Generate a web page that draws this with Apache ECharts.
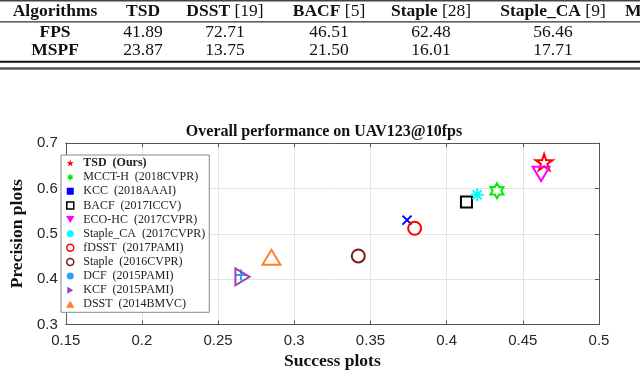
<!DOCTYPE html>
<html>
<head>
<meta charset="utf-8">
<script src="https://cdn.jsdelivr.net/npm/echarts@6/dist/echarts.min.js"></script>
<style>
  html, body { margin: 0; padding: 0; background: #fff; }
  #chart { width: 640px; height: 372px; }
</style>
</head>
<body>
<div id="chart"></div>
<script>
// table above the plot
const tableMethods = ['TSD', 'DSST', 'BACF', 'Staple', 'Staple_CA', 'MCCT-H']
const tableRefs = ['', '[19]', '[5]', '[28]', '[9]', '']
const fpsValues = [41.89, 72.71, 46.51, 62.48, 56.46]
const mspfValues = [23.87, 13.75, 21.50, 16.01, 17.71]

// scatter: success (x) vs precision (y)
const methods = ['TSD (Ours)', 'MCCT-H (2018CVPR)', 'KCC (2018AAAI)', 'BACF (2017ICCV)', 'ECO-HC (2017CVPR)',
  'Staple_CA (2017CVPR)', 'fDSST (2017PAMI)', 'Staple (2016CVPR)', 'DCF (2015PAMI)', 'KCF (2015PAMI)', 'DSST (2014BMVC)']
const successScores = [0.464, 0.433, 0.374, 0.413, 0.462, 0.420, 0.379, 0.342, 0.265, 0.266, 0.285]
const precisionScores = [0.658, 0.595, 0.530, 0.570, 0.632, 0.586, 0.512, 0.451, 0.409, 0.405, 0.448]

// marker shapes
const STAR = 'path://M0 -10 L2.245 -3.09 L9.511 -3.09 L3.633 1.18 L5.878 8.09 L0 3.82 L-5.878 8.09 L-3.633 1.18 L-9.511 -3.09 L-2.245 -3.09 Z'
const HEXA = 'path://M0 -10 L2.887 -5 L8.66 -5 L5.774 0 L8.66 5 L2.887 5 L0 10 L-2.887 5 L-8.66 5 L-5.774 0 L-8.66 -5 L-2.887 -5 Z'
const ASTER = 'path://M0 -10 L0 10 M-10 0 L10 0 M-7.07 -7.07 L7.07 7.07 M-7.07 7.07 L7.07 -7.07'
const XMARK = 'path://M-10 -10 L10 10 M-10 10 L10 -10'
const PLUS = 'path://M0 -10 L0 10 M-10 0 L10 0'
const SQUARE = 'path://M0 0 L10 0 L10 10 L0 10 Z'
const TRI_DOWN = 'path://M0 0 L12 0 L6 10 Z'
const TRI_UP = 'path://M6 0 L12 10 L0 10 Z'
const TRI_RIGHT = 'path://M0 0 L10 6 L0 12 Z'

const colors = ['#ff0000', '#00ee00', '#0000ff', '#000000', '#ff00ff', '#00ffff', '#ff0000', '#801818', '#2f9ff0', '#a040b8', '#ff7f2a']
const symbols = [STAR, HEXA, XMARK, 'rect', TRI_DOWN, ASTER, 'circle', 'circle', PLUS, TRI_RIGHT, TRI_UP]
const symbolSizes = [17, 15, 9, 11, 17, 13, 13, 13, 11, 17, 18]
const legendIcons = [STAR, HEXA, SQUARE, SQUARE, TRI_DOWN, 'circle', 'circle', 'circle', 'circle', TRI_RIGHT, TRI_UP]
const legendHollow = [false, false, false, true, false, false, true, true, false, false, false]

const serif = 'Liberation Serif'
const sans = 'Liberation Sans'

// table as graphic elements
const colX = [55, 143, 225, 329, 431, 553]
const rowY = [11, 32, 50]
const tableGraphics = []
const cell = (x, y, text, align) => ({
  type: 'text', x, y,
  style: {
    text, align: align || 'center', verticalAlign: 'middle', fill: '#111',
    font: '17.5px "Liberation Serif"',
    rich: {
      b: { fontFamily: serif, fontWeight: 'bold', fontSize: 17.5, fill: '#111' },
      r: { fontFamily: serif, fontSize: 17.5, fill: '#111' }
    }
  }
})
tableGraphics.push(cell(colX[0], rowY[0], '{b|Algorithms}'))
tableMethods.forEach((m, i) => {
  const t = tableRefs[i] ? `{b|${m}}{r| ${tableRefs[i]}}` : `{b|${m}}`
  if (i + 1 < colX.length) tableGraphics.push(cell(colX[i + 1], rowY[0], t))
  else tableGraphics.push(cell(625, rowY[0], t, 'left'))
})
tableGraphics.push(cell(colX[0], rowY[1], '{b|FPS}'))
tableGraphics.push(cell(colX[0], rowY[2], '{b|MSPF}'))
fpsValues.forEach((v, i) => tableGraphics.push(cell(colX[i + 1], rowY[1], `{r|${v.toFixed(2)}}`)))
mspfValues.forEach((v, i) => tableGraphics.push(cell(colX[i + 1], rowY[2], `{r|${v.toFixed(2)}}`)))
const rule = (y, w, c) => ({ type: 'line', shape: { x1: 0, y1: y, x2: 640, y2: y }, style: { stroke: c, lineWidth: w } })
tableGraphics.push(rule(0.7, 1.5, '#444'), rule(21.8, 1.2, '#333'), rule(61.7, 2, '#111'), rule(68.4, 2.5, '#555'))

const chart = echarts.init(document.getElementById('chart'))

const axisColor = '#555'
const baseX = {
  type: 'value', min: 0.15, max: 0.5, interval: 0.05,
  axisLine: { show: true, onZero: false, lineStyle: { color: axisColor, width: 1 } },
  axisTick: { show: true, inside: true, length: 4, lineStyle: { color: axisColor } }
}
const baseY = {
  type: 'value', min: 0.3, max: 0.7, interval: 0.1,
  axisLine: { show: true, onZero: false, lineStyle: { color: axisColor, width: 1 } },
  axisTick: { show: true, inside: true, length: 4, lineStyle: { color: axisColor } }
}

chart.setOption({
  animation: false,
  backgroundColor: '#fff',
  graphic: tableGraphics,
  title: {
    text: 'Overall performance on UAV123@10fps',
    left: 324, top: 124, textAlign: 'center', padding: 0,
    textStyle: { fontFamily: serif, fontWeight: 'bold', fontSize: 16, color: '#111' }
  },
  grid: { left: 53, right: 41, top: 143, bottom: 47.5 },
  legend: {
    orient: 'vertical', left: 61, top: 155,
    padding: [1, 4, 1, 5],
    itemWidth: 16, itemHeight: 7, itemGap: 0.13,
    backgroundColor: '#fff', borderColor: '#888', borderWidth: 1,
    formatter: (n) => n.replace(' (', '\u00a0\u00a0('),
    textStyle: { fontFamily: serif, fontSize: 12, color: '#222', lineHeight: 14 },
    data: methods.map((m, i) => ({
      name: m,
      icon: legendIcons[i],
      itemStyle: legendHollow[i]
        ? { color: '#fff', borderColor: colors[i], borderWidth: 1.5 }
        : { color: colors[i], borderWidth: 0 },
      textStyle: i === 0 ? { fontWeight: 'bold' } : {}
    }))
  },
  xAxis: [
    {
      ...baseX,
      name: 'Success plots', nameLocation: 'middle', nameGap: 28,
      nameTextStyle: { fontFamily: serif, fontWeight: 'bold', fontSize: 17.5, color: '#111' },
      axisLabel: { margin: 9, fontFamily: sans, fontSize: 15, color: '#262626' },
      splitLine: { show: true, lineStyle: { color: '#e4e4e4' } }
    },
    { ...baseX, position: 'top', axisLabel: { show: false }, splitLine: { show: false } }
  ],
  yAxis: [
    {
      ...baseY,
      name: 'Precision plots', nameLocation: 'middle', nameGap: 36,
      nameTextStyle: { fontFamily: serif, fontWeight: 'bold', fontSize: 17.5, color: '#111' },
      axisLabel: { margin: 8, fontFamily: sans, fontSize: 15, color: '#262626' },
      splitLine: { show: true, lineStyle: { color: '#e4e4e4' } }
    },
    { ...baseY, position: 'right', axisLabel: { show: false }, splitLine: { show: false } }
  ],
  series: methods.map((m, i) => ({
    name: m,
    type: 'scatter',
    symbol: symbols[i],
    symbolSize: symbolSizes[i],
    symbolKeepAspect: true,
    itemStyle: { color: 'rgba(0,0,0,0)', borderColor: colors[i], borderWidth: 2, opacity: 1 },
    data: [[successScores[i], precisionScores[i]]]
  }))
})
</script>
</body>
</html>
